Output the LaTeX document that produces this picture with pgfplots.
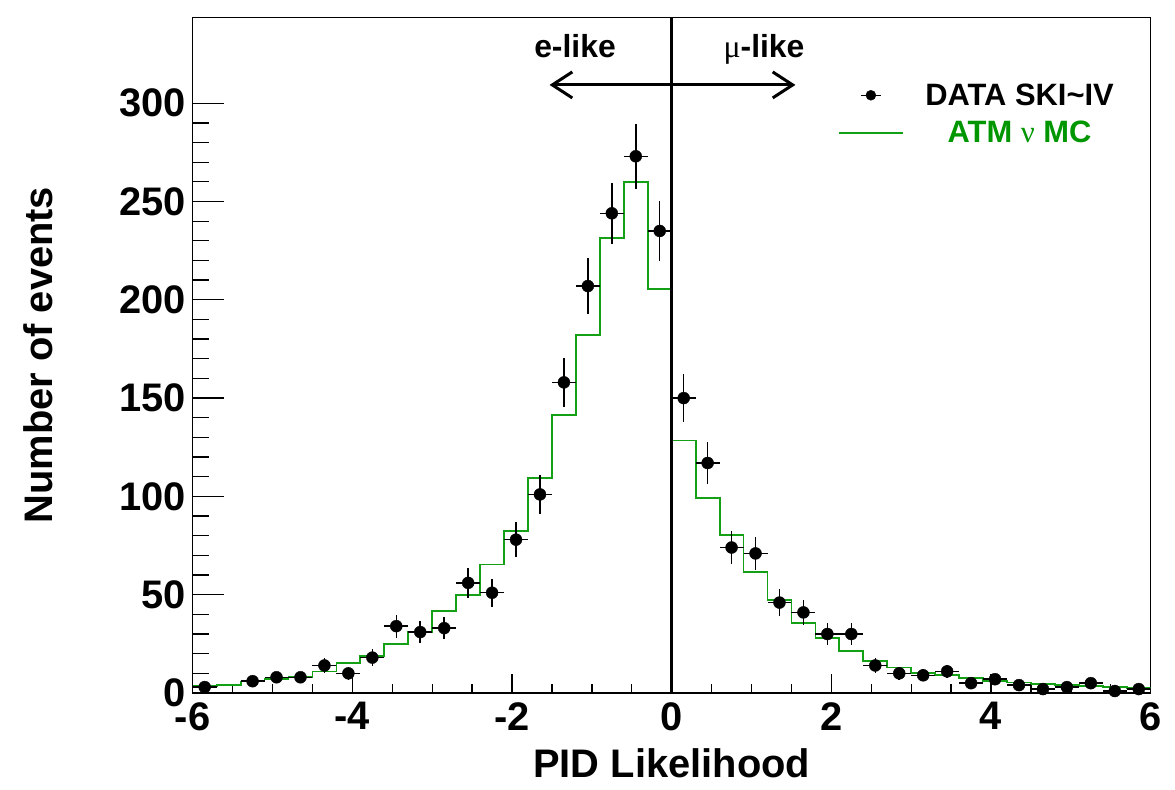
\documentclass[border=0pt]{standalone}
\usepackage{pgfplots}
\pgfplotsset{compat=1.18}
\usepackage{pgfplotstable}
\usepackage{fontspec}
\setmainfont{Liberation Sans}
\newfontfamily\symb{Liberation Serif}
\usetikzlibrary{arrows.meta}
\definecolor{mcgreen}{RGB}{20,160,20}
\definecolor{mctext}{RGB}{0,150,0}

\pgfplotstableread{
x y ex ey
-5.85 3 0.15 1.73
-5.25 6 0.15 2.45
-4.95 8 0.15 2.83
-4.65 8 0.15 2.83
-4.35 14 0.15 3.74
-4.05 10 0.15 3.16
-3.75 18 0.15 4.24
-3.45 34 0.15 5.83
-3.15 31 0.15 5.57
-2.85 33 0.15 5.74
-2.55 56 0.15 7.48
-2.25 51 0.15 7.14
-1.95 78 0.15 8.83
-1.65 101 0.15 10.05
-1.35 158 0.15 12.57
-1.05 207 0.15 14.39
-0.75 244 0.15 15.62
-0.45 273 0.15 16.52
-0.15 235 0.15 15.33
0.15 150 0.15 12.25
0.45 117 0.15 10.82
0.75 74 0.15 8.60
1.05 71 0.15 8.43
1.35 46 0.15 6.78
1.65 41 0.15 6.40
1.95 30 0.15 5.48
2.25 30 0.15 5.48
2.55 14 0.15 3.74
2.85 10 0.15 3.16
3.15 9 0.15 3.00
3.45 11 0.15 3.32
3.75 5 0.15 2.24
4.05 7 0.15 2.65
4.35 4 0.15 2.00
4.65 2 0.15 1.41
4.95 3 0.15 1.73
5.25 5 0.15 2.24
5.55 1 0.15 1.00
5.85 2 0.15 1.41
}\datatable

\pgfplotstableread{
x y
-6.0 3.6
-5.7 4.1
-5.4 5.8
-5.1 7.1
-4.8 8.3
-4.5 10.9
-4.2 15.1
-3.9 19.0
-3.6 24.9
-3.3 31.2
-3.0 41.7
-2.7 49.9
-2.4 65.4
-2.1 82.4
-1.8 109.5
-1.5 141.4
-1.2 182.0
-0.9 231.6
-0.6 260.0
-0.3 205.5
0.0 128.4
0.3 99.0
0.6 80.5
0.9 61.4
1.2 47.3
1.5 35.8
1.8 27.8
2.1 21.4
2.4 16.4
2.7 13.0
3.0 10.3
3.3 9.2
3.6 7.5
3.9 6.3
4.2 5.3
4.5 4.4
4.8 4.1
5.1 3.6
5.4 2.9
5.7 2.4
6.0 2.4
}\mctable

\begin{document}
\begin{tikzpicture}
\useasboundingbox (0,0) rectangle (1175bp,790bp);
\begin{axis}[
  at={(192.7bp,97bp)}, anchor=south west,
  scale only axis, width=958bp, height=675.7bp,
  xmin=-6, xmax=6, ymin=0, ymax=343.7,
  axis line style={line width=1.3bp},
  every tick/.style={black, line width=1.3bp},
  xtick={-6,-4,-2,0,2,4,6},
  xticklabels={-6,-4,-2,0,2,4,6},
  minor x tick num=3,
  ytick={0,50,100,150,200,250,300},
  yticklabels={0,50,100,150,200,250,300},
  minor y tick num=4,
  tick align=inside,
  xtick pos=bottom, ytick pos=left,
  major tick length=31bp, minor tick length=16bp,
  xtick style={/pgfplots/major tick length=19bp,/pgfplots/minor tick length=9bp},
  tick label style={font=\fontsize{40}{40}\selectfont\bfseries},
  xticklabel style={inner sep=9bp},
  yticklabel style={inner sep=7bp},
  xlabel={PID Likelihood},
  xlabel style={at={(axis description cs:0.5,-0.1258)}, anchor=base, inner sep=0pt, font=\fontsize{40}{40}\selectfont\bfseries},
  ylabel={Number of events},
  ylabel style={at={(axis description cs:-0.1458,0.5)}, anchor=south, inner sep=0pt, font=\fontsize{40}{40}\selectfont\bfseries},
  reverse legend,
  legend cell align=center,
  legend style={draw=none, fill=none, inner sep=0pt, outer sep=0pt,
    at={(axis cs:2.083,309.9)}, anchor=north west,
    font=\fontsize{31}{31}\selectfont\bfseries,
    nodes={inner sep=0pt}, column sep=21.5bp, row sep=14.5bp},
]
\addplot[mcgreen, line width=1.8bp, const plot mark left,
  legend image code/.code={\draw[mcgreen, line width=1.8bp] (-32bp,0)--(32bp,0);}]
  table[x=x, y=y] {\mctable};
\addlegendentry{\textcolor{mctext}{ATM {\symb\mdseries ν} MC}}

\addplot[black, line width=2.6bp, forget plot] coordinates {(0,0) (0,343.7)};

\addplot[black, only marks, mark=*, mark size=6bp,
  legend image code/.code={\draw[black, line width=1.5bp] (-10bp,0)--(10bp,0); \fill[black] (0,0) circle (5bp);},
  error bars/.cd, y dir=both, y explicit, x dir=both, x explicit,
  error bar style={line width=1.5bp, black}, error mark=none]
  table[x=x, y=y, x error=ex, y error=ey] {\datatable};
\addlegendentry{DATA SKI\textasciitilde IV}

\node[anchor=base, inner sep=0pt, font=\fontsize{32}{32}\selectfont\bfseries] at (axis cs:-1.211,323.5) {e-like};
\node[anchor=base, inner sep=0pt, font=\fontsize{32}{32}\selectfont\bfseries] at (axis cs:1.156,323.5) {{\symb\mdseries μ}-like};
\draw[{Straight Barb[length=20bp,width=26bp]}-{Straight Barb[length=20bp,width=26bp]}, line width=3bp] (axis cs:-1.53,309.3) -- (axis cs:1.55,309.3);
\end{axis}
\end{tikzpicture}
\end{document}
